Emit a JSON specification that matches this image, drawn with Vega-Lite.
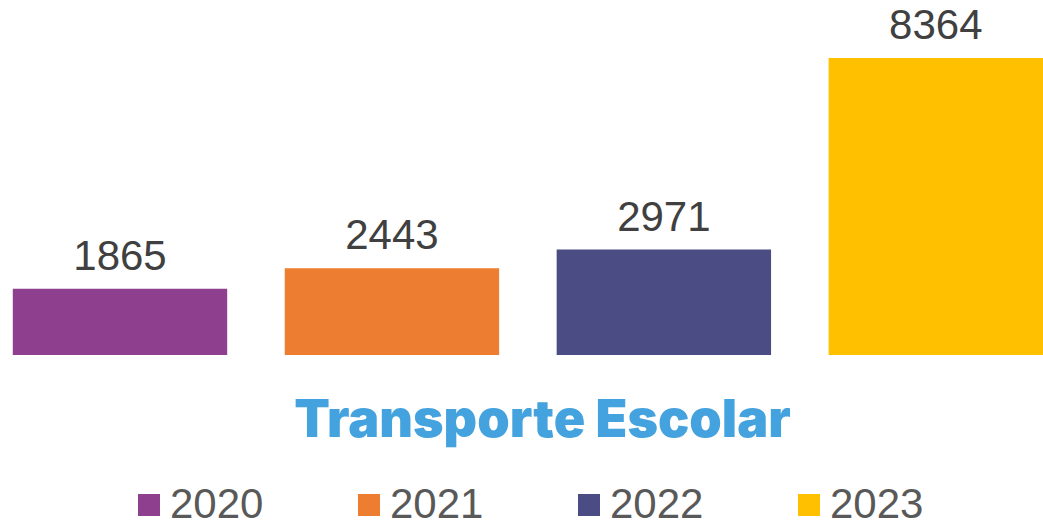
{
  "$schema": "https://vega.github.io/schema/vega-lite/v6.json",
  "width": 1040,
  "height": 355,
  "autosize": {"type": "none"},
  "padding": {"left": 3, "top": 0, "right": 0, "bottom": 165},
  "background": "white",
  "data": {"values": [
    {"year": "2020", "value": 1865},
    {"year": "2021", "value": 2443},
    {"year": "2022", "value": 2971},
    {"year": "2023", "value": 8364}
  ]},
  "encoding": {
    "x": {
      "field": "year", "type": "nominal",
      "scale": {"paddingInner": 0.2116, "paddingOuter": 0.018, "align": 1},
      "axis": {"title": "Transporte Escolar", "labels": false, "ticks": false, "domain": false, "grid": false, "titleFont": "Inter", "titleFontWeight": 900, "titleFontSize": 52, "titleColor": "#44A2DE", "titlePadding": 40, "titleX": 539}
    },
    "y": {"field": "value", "type": "quantitative", "scale": {"domain": [0, 10000]}, "axis": null}
  },
  "layer": [
    {
      "mark": {"type": "bar"},
      "encoding": {
        "color": {
          "field": "year", "type": "nominal",
          "scale": {"range": ["#8E3F8E", "#ED7D31", "#4B4C84", "#FFC000"]},
          "legend": {"title": null, "orient": "none", "legendX": 125, "legendY": 484, "direction": "horizontal", "columns": 4, "columnPadding": 84, "symbolType": "square", "symbolSize": 484, "symbolStrokeWidth": 0, "labelFontSize": 42, "labelFont": "Liberation Sans", "labelColor": "#595959", "labelOffset": 0, "padding": 0}
        }
      }
    },
    {
      "mark": {"type": "text", "baseline": "alphabetic", "dy": -19, "font": "Liberation Sans", "fontSize": 42, "color": "#404040"},
      "encoding": {"text": {"field": "value", "type": "quantitative", "format": "d"}}
    }
  ],
  "config": {"view": {"stroke": null}}
}
